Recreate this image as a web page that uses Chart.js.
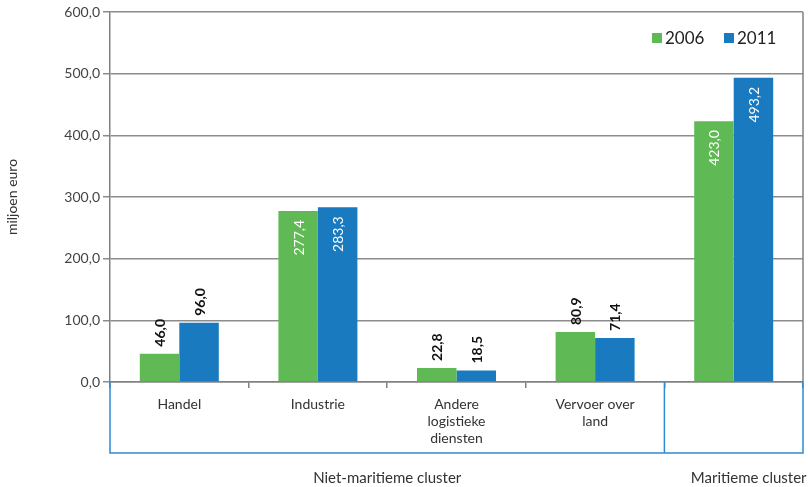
<!DOCTYPE html>
<html>
<head>
<meta charset="utf-8">
<script src="https://cdn.jsdelivr.net/npm/chart.js@4/dist/chart.umd.min.js"></script>
<style>
  html, body { margin: 0; padding: 0; background: #fff; }
  #wrap { width: 808px; height: 487px; }
</style>
</head>
<body>
<div id="wrap"><canvas id="chart"></canvas></div>
<script>
var categories = [
    ['Handel'],
    ['Industrie'],
    ['Andere', 'logistieke', 'diensten'],
    ['Vervoer over', 'land'],
    ['']
];
var values2006 = [46.0, 277.4, 22.8, 80.9, 423.0];
var values2011 = [96.0, 283.3, 18.5, 71.4, 493.2];
var seriesNames = ['2006', '2011'];
var seriesColors = ['#5fba55', '#1a7abf'];
// clusters: naam + aantal categorieen
var clusterNames = ['Niet-maritieme cluster', 'Maritieme cluster'];
var clusterSizes = [4, 1];

var FONT = 'Lato, "Open Sans", sans-serif';

function fmt(v) {
    return v.toFixed(1).replace('.', ',');
}

// labels met waarden, gedraaid
var valueLabels = {
    id: 'valueLabels',
    afterDatasetsDraw: function (chart) {
        var ctx = chart.ctx;
        chart.data.datasets.forEach(function (ds, i) {
            chart.getDatasetMeta(i).data.forEach(function (bar, j) {
                var v = ds.data[j];
                var inside = v > 200;
                ctx.save();
                ctx.translate(bar.x, bar.y);
                ctx.rotate(-Math.PI / 2);
                ctx.textBaseline = 'middle';
                if (inside) {
                    ctx.font = '14px ' + FONT;
                    ctx.fillStyle = '#ffffff';
                    ctx.textAlign = 'right';
                    ctx.fillText(fmt(v), -9, 1);
                } else {
                    ctx.font = 'bold 14px ' + FONT;
                    ctx.fillStyle = '#111';
                    ctx.textAlign = 'left';
                    ctx.fillText(fmt(v), 7, 1);
                }
                ctx.restore();
            });
        });
    }
};

// kader, legenda en clusterlabels
var frame = {
    id: 'frame',
    afterDraw: function (chart) {
        var ctx = chart.ctx;
        var a = chart.chartArea;
        var x = chart.scales.x;

        // rechterrand
        ctx.save();
        ctx.strokeStyle = '#808080';
        ctx.lineWidth = 1.5;
        ctx.beginPath();
        ctx.moveTo(a.right, a.top);
        ctx.lineTo(a.right, a.bottom);
        ctx.stroke();

        // blauw kader onder de as
        var boxBottom = a.bottom + 71;
        ctx.strokeStyle = '#2e8bd0';
        ctx.lineWidth = 1.5;
        ctx.beginPath();
        ctx.moveTo(a.left, a.bottom);
        ctx.lineTo(a.left, boxBottom);
        ctx.lineTo(a.right, boxBottom);
        ctx.lineTo(a.right, a.bottom);
        ctx.stroke();

        // scheidingen en labels per cluster
        var half = (x.getPixelForValue(1) - x.getPixelForValue(0)) / 2;
        var start = 0;
        ctx.font = '15px ' + FONT;
        ctx.fillStyle = '#333';
        ctx.textAlign = 'center';
        ctx.textBaseline = 'middle';
        clusterNames.forEach(function (name, k) {
            var end = start + clusterSizes[k] - 1;
            var x0 = x.getPixelForValue(start) - half;
            var x1 = x.getPixelForValue(end) + half;
            if (k > 0) {
                ctx.beginPath();
                ctx.moveTo(x0, a.bottom);
                ctx.lineTo(x0, boxBottom);
                ctx.stroke();
            }
            ctx.fillText(name, (x0 + x1) / 2 + (k == clusterNames.length - 1 ? 15 : 0), boxBottom + 25);
            start = end + 1;
        });

        // legenda rechtsboven
        var lx = a.right - 151;
        var ly = a.top + 26;
        ctx.font = '17px ' + FONT;
        ctx.textAlign = 'left';
        seriesNames.forEach(function (n, i) {
            ctx.fillStyle = seriesColors[i];
            ctx.fillRect(lx, ly - 5, 10, 10);
            ctx.fillStyle = '#222';
            ctx.fillText(n, lx + 13, ly + 1);
            lx += 72;
        });
        ctx.restore();
    }
};

new Chart(document.getElementById('chart').getContext('2d'), {
    type: 'bar',
    data: {
        labels: categories,
        datasets: [{
            label: seriesNames[0],
            data: values2006,
            backgroundColor: seriesColors[0]
        }, {
            label: seriesNames[1],
            data: values2011,
            backgroundColor: seriesColors[1]
        }]
    },
    options: {
        responsive: true,
        maintainAspectRatio: false,
        animation: false,
        layout: { padding: { left: 4, right: 5, top: 12, bottom: 0 } },
        datasets: { bar: { categoryPercentage: 0.57, barPercentage: 1 } },
        plugins: {
            legend: { display: false },
            tooltip: { enabled: false }
        },
        scales: {
            x: {
                grid: {
                    offset: true,
                    drawOnChartArea: false,
                    drawTicks: true,
                    tickLength: 6,
                    color: '#808080',
                    lineWidth: 1.5
                },
                border: { color: '#808080', width: 1.5 },
                ticks: {
                    color: '#333',
                    font: { family: FONT, size: 14 },
                    padding: 8,
                    maxRotation: 0,
                    autoSkip: false
                },
                afterFit: function (s) { s.height = 105; }
            },
            y: {
                min: 0,
                max: 600,
                ticks: {
                    stepSize: 100,
                    color: '#444',
                    font: { family: FONT, size: 14 },
                    padding: 3,
                    callback: function (v) { return fmt(v); }
                },
                grid: { color: '#8c8c8c', lineWidth: 1.5, tickLength: 7 },
                border: { color: '#808080', width: 1.5 },
                title: {
                    display: true,
                    text: 'miljoen euro',
                    color: '#333',
                    font: { family: FONT, size: 14 },
                    padding: { top: 0, bottom: 20 }
                },
                afterFit: function (s) { s.width = 106; }
            }
        }
    },
    plugins: [valueLabels, frame]
});
</script>
</body>
</html>
